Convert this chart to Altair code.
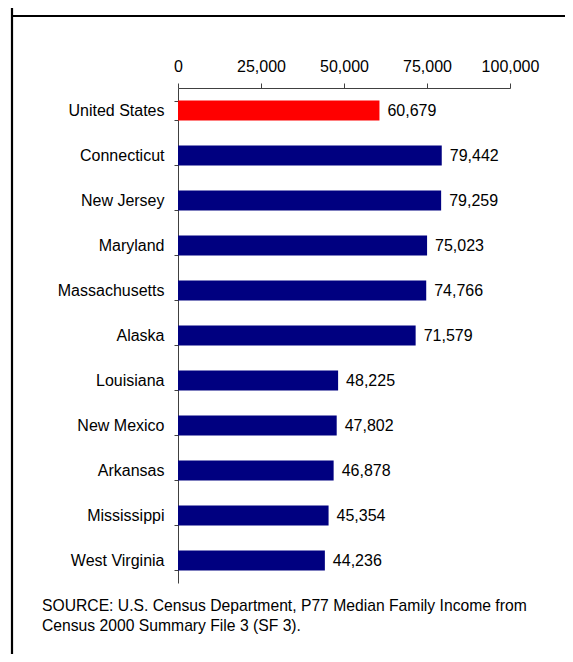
import altair as alt
import pandas as pd

states = ["United States", "Connecticut", "New Jersey", "Maryland", "Massachusetts",
          "Alaska", "Louisiana", "New Mexico", "Arkansas", "Mississippi", "West Virginia"]
incomes = [60679, 79442, 79259, 75023, 74766, 71579, 48225, 47802, 46878, 45354, 44236]
groups = ["US", "State", "State", "State", "State", "State", "State", "State", "State", "State", "State"]
x_ticks = [0, 25000, 50000, 75000, 100000]
source_lines = ["SOURCE: U.S. Census Department, P77 Median Family Income from",
                "Census 2000 Summary File 3 (SF 3)."]

df = pd.DataFrame({"state": states, "income": incomes, "group": groups})

FONT = "Liberation Sans"
FS = 16

y_enc = alt.Y("state:N", sort=states,
              scale=alt.Scale(paddingInner=0.556, paddingOuter=0.278),
              axis=alt.Axis(title=None, orient="left", tickBand="extent", tickSize=4,
                            labelPadding=10, labelFont=FONT, labelFontSize=FS,
                            labelColor="#000000", domainColor="#404040", tickColor="#404040",
                            domainWidth=1, tickWidth=1, grid=False))
x_enc = alt.X("income:Q",
              scale=alt.Scale(domain=[0, 100000], nice=False),
              axis=alt.Axis(title=None, orient="top", values=x_ticks, format=",.0f",
                            tickSize=5, labelPadding=9, labelFont=FONT, labelFontSize=FS,
                            labelColor="#000000", domainColor="#404040", tickColor="#404040",
                            domainWidth=1, tickWidth=1, grid=False, labelFlush=False))

bars = alt.Chart(df).mark_bar().encode(
    x=x_enc, y=y_enc,
    color=alt.Color("group:N", scale=alt.Scale(domain=["US", "State"], range=["#FF0000", "#000080"]),
                    legend=None),
)

labels = alt.Chart(df).mark_text(align="left", baseline="middle", dx=8, font=FONT,
                                 fontSize=FS, color="#000000").encode(
    x="income:Q", y=alt.Y("state:N", sort=states),
    text=alt.Text("income:Q", format=",.0f"),
)

one = alt.Data(values=[{"k": 1}])
vline = alt.Chart(one).mark_rule(color="#000000", strokeWidth=2.2).encode(
    x=alt.value(-166), y=alt.value(-80), y2=alt.value(566))
hline = alt.Chart(one).mark_rule(color="#000000", strokeWidth=2.2).encode(
    x=alt.value(-166), x2=alt.value(387), y=alt.value(-72))
source = alt.Chart(one).mark_text(text=source_lines, align="left", baseline="alphabetic",
                                  font=FONT, fontSize=15.7, color="#000000",
                                  lineHeight=19.5).encode(
    x=alt.value(-136), y=alt.value(523))

chart = alt.layer(vline, hline, bars, labels, source).properties(
    width=332, height=495,
    autosize=alt.AutoSizeParams(type="none"),
    padding={"left": 170, "top": 80, "right": 55, "bottom": 71},
).configure_view(stroke=None)

chart.save("out.html", embed_options={"renderer": "svg", "actions": False})
